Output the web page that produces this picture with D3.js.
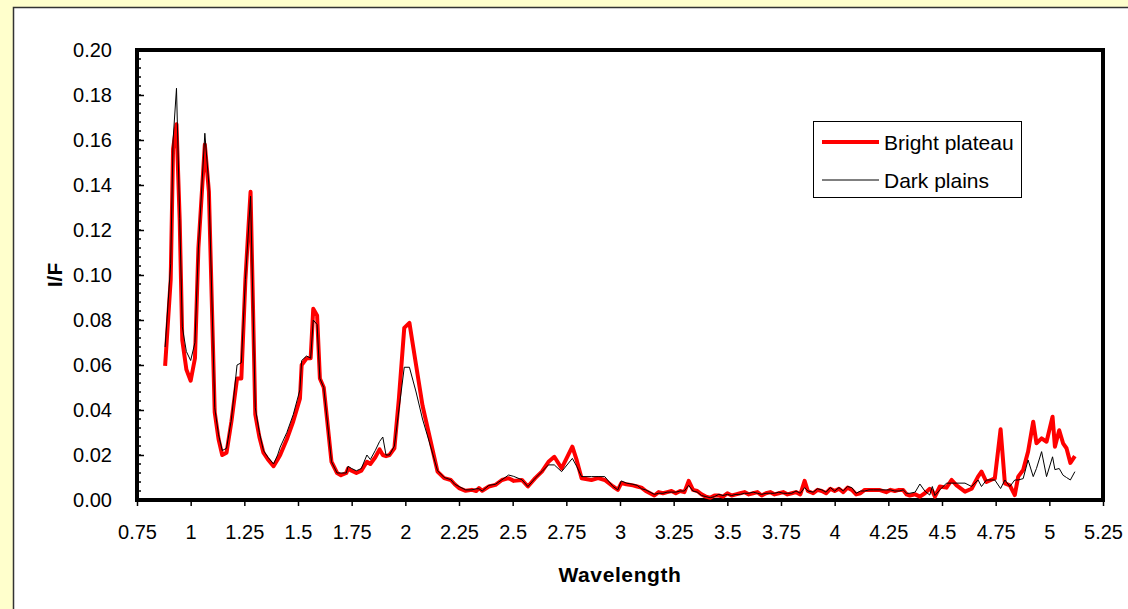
<!DOCTYPE html>
<html>
<head>
<meta charset="utf-8">
<script src="https://cdn.jsdelivr.net/npm/d3@7"></script>
<style>
  body { margin: 0; background: #FFFFCC; }
  svg { display: block; font-family: "Liberation Sans", Arial, sans-serif; }
</style>
</head>
<body>
<svg id="chart" width="1128" height="609"></svg>
<script>

// spectra (wavelength in microns, I/F)
const wavelength = [
  0.881, 0.907, 0.918, 0.934, 0.949, 0.961, 0.980, 1.000, 1.020, 1.036,
  1.066, 1.085, 1.112, 1.130, 1.147, 1.167, 1.190, 1.216, 1.236, 1.255,
  1.279, 1.301, 1.320, 1.339, 1.360, 1.386, 1.405, 1.417, 1.448, 1.478,
  1.509, 1.517, 1.540, 1.559, 1.571, 1.589, 1.602, 1.620, 1.656, 1.682,
  1.700, 1.725, 1.733, 1.750, 1.772, 1.795, 1.821, 1.837, 1.860, 1.880,
  1.895, 1.910, 1.926, 1.949, 1.970, 1.995, 2.019, 2.050, 2.080, 2.111,
  2.150, 2.181, 2.212, 2.230, 2.250, 2.281, 2.310, 2.330, 2.343, 2.358,
  2.389, 2.420, 2.450, 2.481, 2.505, 2.543, 2.571, 2.605, 2.636, 2.667,
  2.694, 2.728, 2.778, 2.798, 2.821, 2.867, 2.898, 2.929, 2.968, 2.990,
  3.006, 3.030, 3.060, 3.080, 3.100, 3.120, 3.140, 3.160, 3.180, 3.200,
  3.220, 3.240, 3.260, 3.280, 3.300, 3.320, 3.340, 3.360, 3.380, 3.400,
  3.420, 3.440, 3.460, 3.480, 3.500, 3.520, 3.540, 3.560, 3.580, 3.600,
  3.620, 3.640, 3.660, 3.680, 3.700, 3.720, 3.740, 3.760, 3.780, 3.800,
  3.820, 3.840, 3.860, 3.875, 3.900, 3.920, 3.940, 3.960, 3.980, 4.000,
  4.020, 4.040, 4.060, 4.080, 4.100, 4.120, 4.140, 4.160, 4.180, 4.211,
  4.240, 4.260, 4.280, 4.300, 4.319, 4.335, 4.350, 4.375, 4.397, 4.420,
  4.443, 4.455, 4.467, 4.490, 4.521, 4.545, 4.568, 4.607, 4.638, 4.668,
  4.684, 4.707, 4.730, 4.746, 4.773, 4.793, 4.816, 4.839, 4.855, 4.878,
  4.901, 4.925, 4.940, 4.964, 4.987, 5.015, 5.026, 5.046, 5.064, 5.080,
  5.098, 5.119
];

const brightPlateau = [
  0.0596, 0.098, 0.156, 0.167, 0.124, 0.071, 0.058, 0.053, 0.063, 0.112,
  0.158, 0.137, 0.039, 0.027, 0.020, 0.021, 0.035, 0.054, 0.054, 0.098,
  0.137, 0.038, 0.028, 0.021, 0.018, 0.015, 0.018, 0.020, 0.027, 0.035,
  0.045, 0.060, 0.063, 0.063, 0.085, 0.082, 0.054, 0.050, 0.017, 0.012,
  0.011, 0.012, 0.014, 0.013, 0.012, 0.013, 0.017, 0.016, 0.019, 0.0225,
  0.020, 0.0195, 0.020, 0.023, 0.045, 0.0765, 0.0787, 0.060, 0.042, 0.029,
  0.0126, 0.0097, 0.0089, 0.007, 0.0053, 0.0041, 0.0045, 0.004, 0.0053, 0.0041,
  0.006, 0.0067, 0.0089, 0.0097, 0.0085, 0.0089, 0.006, 0.0097, 0.0126, 0.017,
  0.0192, 0.0141, 0.0237, 0.0178, 0.0097, 0.0089, 0.0097, 0.0089, 0.006, 0.0045,
  0.0075, 0.007, 0.0065, 0.006, 0.0055, 0.004, 0.003, 0.002, 0.0035, 0.003,
  0.0035, 0.004, 0.003, 0.004, 0.0035, 0.0085, 0.0045, 0.004, 0.0025, 0.0015,
  0.001, 0.002, 0.002, 0.0015, 0.003, 0.002, 0.0025, 0.003, 0.0035, 0.0025,
  0.003, 0.0035, 0.002, 0.003, 0.0035, 0.0025, 0.003, 0.0035, 0.0025, 0.003,
  0.0035, 0.0025, 0.0085, 0.004, 0.003, 0.0045, 0.004, 0.003, 0.005, 0.004,
  0.005, 0.0035, 0.0055, 0.0045, 0.0025, 0.003, 0.0045, 0.0045, 0.0045, 0.0044,
  0.0035, 0.0045, 0.004, 0.0045, 0.0044, 0.0025, 0.002, 0.0025, 0.0015, 0.003,
  0.005, 0.004, 0.0015, 0.006, 0.0055, 0.0089, 0.0065, 0.0037, 0.005, 0.0104,
  0.0126, 0.008, 0.009, 0.0096, 0.0314, 0.0074, 0.0065, 0.0022, 0.0104, 0.0133,
  0.0215, 0.0348, 0.0252, 0.0274, 0.0259, 0.037, 0.0237, 0.031, 0.0252, 0.023,
  0.0165, 0.0195
];

const darkPlains = [
  0.068, 0.105, 0.160, 0.183, 0.125, 0.077, 0.066, 0.062, 0.070, 0.112,
  0.163, 0.140, 0.041, 0.029, 0.022, 0.023, 0.036, 0.060, 0.061, 0.098,
  0.135, 0.041, 0.030, 0.022, 0.019, 0.016, 0.020, 0.0235, 0.030, 0.038,
  0.049, 0.062, 0.064, 0.063, 0.080, 0.078, 0.054, 0.050, 0.017, 0.012,
  0.012, 0.012, 0.015, 0.014, 0.013, 0.014, 0.020, 0.018, 0.022, 0.026,
  0.028, 0.020, 0.020, 0.024, 0.040, 0.059, 0.059, 0.048, 0.036, 0.026,
  0.013, 0.010, 0.009, 0.007, 0.006, 0.0045, 0.0045, 0.005, 0.005, 0.004,
  0.0065, 0.007, 0.009, 0.0111, 0.0105, 0.009, 0.006, 0.0097, 0.0126, 0.0156,
  0.0156, 0.0126, 0.0185, 0.015, 0.0104, 0.0104, 0.0104, 0.0104, 0.006, 0.0045,
  0.0085, 0.0075, 0.007, 0.0065, 0.005, 0.0045, 0.0035, 0.0025, 0.003, 0.003,
  0.0035, 0.0035, 0.0035, 0.004, 0.004, 0.0065, 0.004, 0.0035, 0.002, 0.0015,
  0.001, 0.0015, 0.0025, 0.002, 0.0025, 0.002, 0.0025, 0.0025, 0.003, 0.003,
  0.0035, 0.003, 0.0025, 0.003, 0.003, 0.003, 0.0035, 0.003, 0.003, 0.003,
  0.004, 0.003, 0.0055, 0.004, 0.0035, 0.005, 0.0045, 0.0035, 0.0055, 0.004,
  0.0055, 0.004, 0.006, 0.0055, 0.003, 0.004, 0.004, 0.0045, 0.0045, 0.0045,
  0.0045, 0.0045, 0.004, 0.004, 0.0045, 0.003, 0.003, 0.0035, 0.0071, 0.004,
  0.0022, 0.006, 0.002, 0.0045, 0.0075, 0.0075, 0.0075, 0.0075, 0.006, 0.0089,
  0.006, 0.0089, 0.0089, 0.0089, 0.0051, 0.0089, 0.006, 0.0089, 0.0089, 0.0095,
  0.0178, 0.0104, 0.014, 0.0215, 0.0104, 0.0192, 0.0135, 0.014, 0.011, 0.010,
  0.0089, 0.0126
];

const seriesNames = ["Bright plateau", "Dark plains"];
const xTicks = [0.75, 1, 1.25, 1.5, 1.75, 2, 2.25, 2.5, 2.75, 3, 3.25, 3.5, 3.75, 4, 4.25, 4.5, 4.75, 5, 5.25];
const yTicks = [0, 0.02, 0.04, 0.06, 0.08, 0.10, 0.12, 0.14, 0.16, 0.18, 0.20];

const svg = d3.select("#chart");

// white chart panel on the yellow page
svg.append("rect")
  .attr("x", 13.5).attr("y", 7.5)
  .attr("width", 1140).attr("height", 620)
  .attr("fill", "#fff")
  .attr("stroke", "#333").attr("stroke-width", 1.5);

const plot = { left: 137, right: 1103, top: 50, bottom: 500 };

const x = d3.scaleLinear().domain([0.75, 5.25]).range([plot.left, plot.right]);
const y = d3.scaleLinear().domain([0, 0.20]).range([plot.bottom, plot.top]);

// x axis, ticks pointing down
const xAxis = svg.append("g")
  .attr("transform", "translate(0," + plot.bottom + ")")
  .call(d3.axisBottom(x).tickValues(xTicks).tickSize(6).tickPadding(19)
    .tickFormat(d => String(+d.toFixed(2))));
xAxis.select(".domain").remove();
xAxis.selectAll("line").attr("stroke", "#000").attr("stroke-width", 1.5);
xAxis.selectAll("text").attr("font-size", 20).attr("fill", "#000");

// y axis: minor ticks every 0.004 inside, labels on the left
const minorY = d3.range(0, 51).map(i => i * 0.004);
svg.append("g").selectAll("line")
  .data(minorY)
  .join("line")
  .attr("x1", plot.left).attr("x2", plot.left + 4)
  .attr("y1", d => y(d)).attr("y2", d => y(d))
  .attr("stroke", "#000").attr("stroke-width", 1.5);

const yAxis = svg.append("g")
  .attr("transform", "translate(" + plot.left + ",0)")
  .call(d3.axisLeft(y).tickValues(yTicks).tickSize(-7).tickPadding(25)
    .tickFormat(d3.format(".2f")));
yAxis.select(".domain").remove();
yAxis.selectAll("line").attr("stroke", "#000").attr("stroke-width", 1.5);
yAxis.selectAll("text").attr("font-size", 20).attr("fill", "#000");

// plot frame
svg.append("rect")
  .attr("x", plot.left).attr("y", plot.top)
  .attr("width", plot.right - plot.left).attr("height", plot.bottom - plot.top)
  .attr("fill", "none")
  .attr("stroke", "#000").attr("stroke-width", 4);

const rows = wavelength.map((w, i) => ({ w: w, bright: brightPlateau[i], dark: darkPlains[i] }));

svg.append("path")
  .datum(rows)
  .attr("fill", "none")
  .attr("stroke", "#FF0000")
  .attr("stroke-width", 4)
  .attr("stroke-linejoin", "round")
  .attr("d", d3.line().x(d => x(d.w)).y(d => y(d.bright)));

svg.append("path")
  .datum(rows)
  .attr("fill", "none")
  .attr("stroke", "#000")
  .attr("stroke-width", 1)
  .attr("d", d3.line().x(d => x(d.w)).y(d => y(d.dark)));

// axis titles
svg.append("text")
  .attr("x", (plot.left + plot.right) / 2).attr("y", 582)
  .attr("text-anchor", "middle")
  .attr("font-size", 21).attr("font-weight", "bold")
  .attr("letter-spacing", 0.6)
  .text("Wavelength");

svg.append("text")
  .attr("transform", "translate(62," + (plot.top + plot.bottom) / 2 + ") rotate(-90)")
  .attr("text-anchor", "middle")
  .attr("font-size", 21).attr("font-weight", "bold")
  .text("I/F");

// legend
const legend = svg.append("g");
legend.append("rect")
  .attr("x", 813.5).attr("y", 121.5)
  .attr("width", 208).attr("height", 76)
  .attr("fill", "#fff").attr("stroke", "#000").attr("stroke-width", 1);

const legendStyles = [
  { color: "#FF0000", width: 4 },
  { color: "#000", width: 1 }
];
seriesNames.forEach((name, i) => {
  const ly = 142 + i * 38;
  legend.append("line")
    .attr("x1", 822).attr("x2", 879)
    .attr("y1", ly).attr("y2", ly)
    .attr("stroke", legendStyles[i].color)
    .attr("stroke-width", legendStyles[i].width);
  legend.append("text")
    .attr("x", 884).attr("y", ly + 7.5)
    .attr("font-size", 21)
    .text(name);
});

</script>
</body>
</html>
